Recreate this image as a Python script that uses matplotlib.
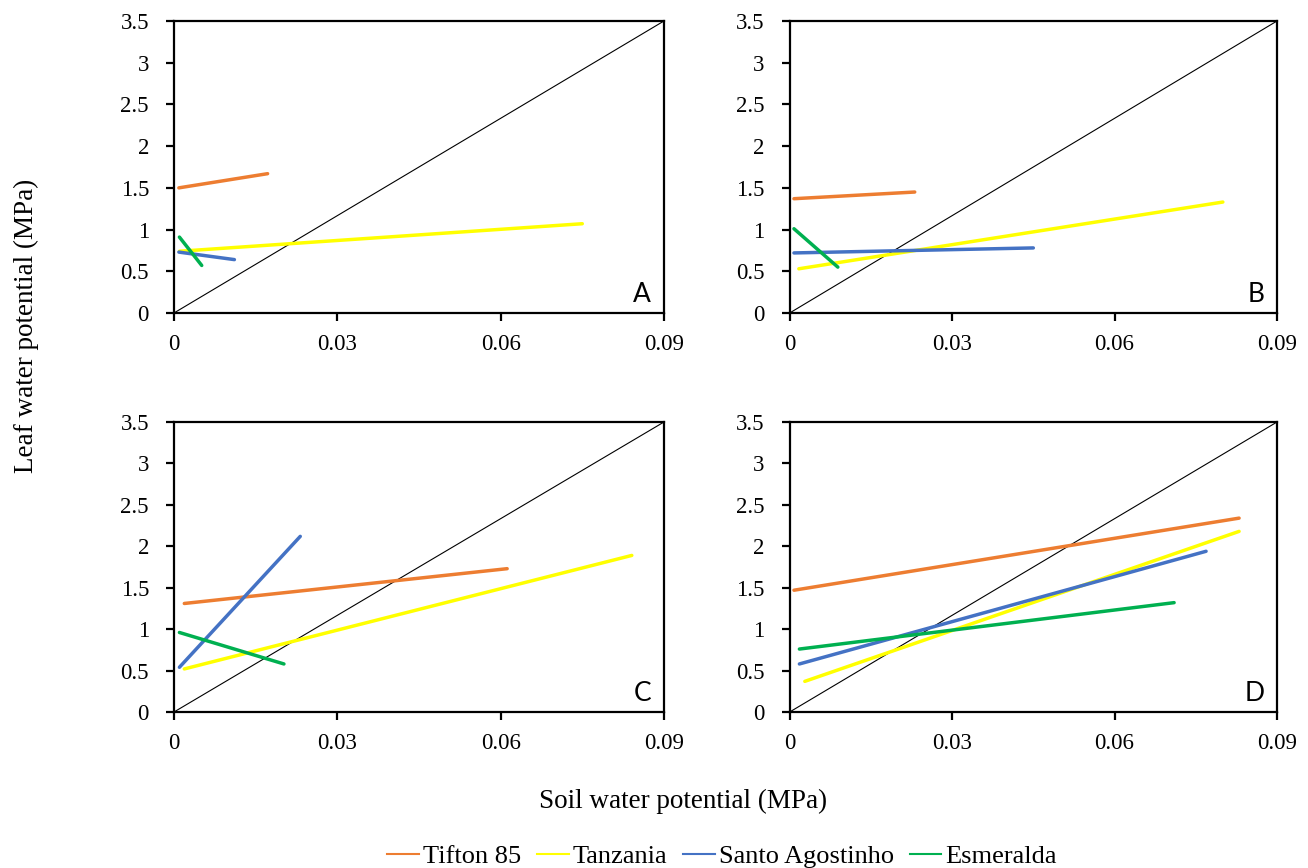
import matplotlib
matplotlib.use("Agg")
import matplotlib.pyplot as plt
from matplotlib.lines import Line2D

plt.rcParams['font.family'] = ['Liberation Serif', 'DejaVu Serif']

cultivars = ["Tifton 85", "Tanzania", "Santo Agostinho", "Esmeralda"]
colors = ["#ED7D31", "#FFFF00", "#4472C4", "#00B050"]
panels = ["A", "B", "C", "D"]

# soil water potential (start, end) per cultivar, per panel
soil_A = [(0.0009, 0.0172), (0.001, 0.075), (0.0009, 0.0111), (0.001, 0.0051)]
leaf_A = [(1.50, 1.67), (0.74, 1.07), (0.73, 0.64), (0.91, 0.57)]

soil_B = [(0.0008, 0.0231), (0.0017, 0.080), (0.0008, 0.045), (0.0008, 0.0089)]
leaf_B = [(1.37, 1.45), (0.53, 1.33), (0.72, 0.78), (1.01, 0.55)]

soil_C = [(0.0019, 0.0612), (0.0019, 0.0841), (0.001, 0.0232), (0.001, 0.0202)]
leaf_C = [(1.31, 1.73), (0.52, 1.89), (0.54, 2.12), (0.96, 0.58)]

soil_D = [(0.0008, 0.083), (0.0028, 0.083), (0.0018, 0.0769), (0.0018, 0.071)]
leaf_D = [(1.47, 2.34), (0.37, 2.18), (0.58, 1.94), (0.76, 1.32)]

soil = [soil_A, soil_B, soil_C, soil_D]
leaf = [leaf_A, leaf_B, leaf_C, leaf_D]

xticks = [0, 0.03, 0.06, 0.09]
xticklabels = ["0", "0.03", "0.06", "0.09"]
yticks = [0, 0.5, 1, 1.5, 2, 2.5, 3, 3.5]
yticklabels = ["0", "0.5", "1", "1.5", "2", "2.5", "3", "3.5"]

fig = plt.figure(figsize=(13.08, 8.68), dpi=100)
boxes = [
    [0.133, 0.6394, 0.3746, 0.3364],
    [0.6037, 0.6394, 0.3726, 0.3364],
    [0.133, 0.1797, 0.3746, 0.3341],
    [0.6037, 0.1797, 0.3726, 0.3341],
]

for i, box in enumerate(boxes):
    ax = fig.add_axes(box)
    ax.plot([0, 0.09], [0, 3.5], color="black", lw=0.8)
    for j in range(4):
        ax.plot(soil[i][j], leaf[i][j], color=colors[j], lw=2.5,
                solid_capstyle="round")
    ax.set_xlim(0, 0.09)
    ax.set_ylim(0, 3.5)
    ax.set_xticks(xticks)
    ax.set_xticklabels(xticklabels)
    ax.set_yticks(yticks)
    ax.set_yticklabels(yticklabels)
    ax.tick_params(labelsize=16.5, width=1.6, length=6, direction="out")
    ax.tick_params(axis="y", pad=12)
    ax.tick_params(axis="x", pad=9)
    for s in ["left", "bottom", "right", "top"]:
        ax.spines[s].set_linewidth(1.6)
    ax.text(0.974, 0.02, panels[i], transform=ax.transAxes, ha="right",
            va="bottom", fontsize=19, family="Lato")

fig.text(0.522, 0.077, "Soil water potential (MPa)", ha="center",
         va="center", fontsize=19.5)
fig.text(0.02, 0.625, "Leaf water potential (MPa)", ha="center",
         va="center", rotation=90, fontsize=19.5)

handles = [Line2D([], [], color=c, lw=1.5) for c in colors]
fig.legend(handles, cultivars, loc="center", bbox_to_anchor=(0.552, 0.013),
           ncol=4, frameon=False, fontsize=19, handlelength=1.2,
           handletextpad=0.15, columnspacing=0.6)

fig.savefig("out.png", dpi=100)
